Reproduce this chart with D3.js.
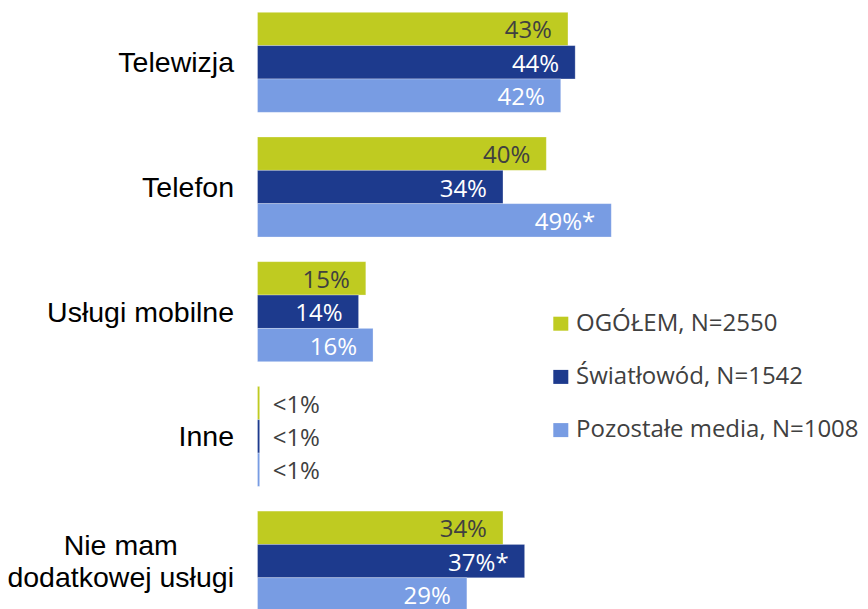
<!DOCTYPE html>
<html>
<head>
<meta charset="utf-8">
<script src="https://cdn.jsdelivr.net/npm/d3@7"></script>
<style>
  body { margin: 0; background: #fff; }
  svg { display: block; }
</style>
</head>
<body>
<div id="chart"></div>
<script>
const categories = ['Telewizja', 'Telefon', 'Usługi mobilne', 'Inne', 'Nie mam dodatkowej usługi'];
const categoryLines = [['Telewizja'], ['Telefon'], ['Usługi mobilne'], ['Inne'], ['Nie mam', 'dodatkowej usługi']];
const seriesNames = ['OGÓŁEM, N=2550', 'Światłowód, N=1542', 'Pozostałe media, N=1008'];

const ogolem = [43, 40, 15, 0.3, 34];
const swiatlowod = [44, 34, 14, 0.3, 37];
const pozostale = [42, 49, 16, 0.3, 29];

const ogolemLabels = ['43%', '40%', '15%', '<1%', '34%'];
const swiatlowodLabels = ['44%', '34%', '14%', '<1%', '37%*'];
const pozostaleLabels = ['42%', '49%*', '16%', '<1%', '29%'];

const colors = ['#BFCB21', '#1D3A8D', '#789CE3'];
const labelColors = ['#404040', '#ffffff', '#ffffff'];

const width = 868, height = 609;
const svg = d3.select('#chart').append('svg')
  .attr('width', width)
  .attr('height', height);

const values = [ogolem, swiatlowod, pozostale];
const labels = [ogolemLabels, swiatlowodLabels, pozostaleLabels];

const y = d3.scaleBand()
  .domain(categories)
  .range([12.3, 611.1])
  .paddingInner(0.198)
  .paddingOuter(0);

const ySub = d3.scaleBand()
  .domain(d3.range(seriesNames.length))
  .range([0, y.bandwidth()])
  .padding(0);

const x = d3.scaleLinear()
  .domain([0, 100])
  .range([257.5, 257.5 + 722]);

const valueFont = '"Open Sans", sans-serif';

// bars
values.forEach((vals, s) => {
  const g = svg.append('g');
  g.selectAll('rect')
    .data(vals)
    .join('rect')
    .attr('x', x(0))
    .attr('y', (d, i) => y(categories[i]) + ySub(s))
    .attr('width', d => x(d) - x(0))
    .attr('height', ySub.bandwidth())
    .attr('fill', colors[s])
    .attr('stroke', '#ffffff')
    .attr('stroke-opacity', 0.35)
    .attr('stroke-width', 0.8);

  g.selectAll('text')
    .data(vals)
    .join('text')
    .attr('x', d => d < 1 ? x(d) + 13 : x(d) - 16)
    .attr('y', (d, i) => y(categories[i]) + ySub(s) + ySub.bandwidth() / 2 + 9.5)
    .attr('text-anchor', d => d < 1 ? 'start' : 'end')
    .attr('font-family', valueFont)
    .attr('font-size', '24px')
    .attr('fill', d => d < 1 ? '#404040' : labelColors[s])
    .text((d, i) => labels[s][i]);
});

// category labels
const labelRight = 234;
categories.forEach((c, i) => {
  const lines = categoryLines[i];
  const cy = y(c) + y.bandwidth() / 2;
  const lh = 32.5;
  const t = svg.append('text')
    .attr('font-family', '"Liberation Sans", Arial, sans-serif')
    .attr('font-size', '28.5px')
    .attr('fill', '#000');
  const spans = lines.map((ln, k) => t.append('tspan')
    .attr('y', cy + 10 + (k - (lines.length - 1) / 2) * lh)
    .text(ln));
  const widths = spans.map(sp => sp.node().getComputedTextLength());
  const maxW = d3.max(widths);
  spans.forEach(sp => sp.attr('x', labelRight - maxW / 2).attr('text-anchor', 'middle'));
});

// legend
const legend = svg.append('g');
seriesNames.forEach((name, s) => {
  const ly = 330.7 + s * 53.2;
  legend.append('rect')
    .attr('x', 553.3)
    .attr('y', ly - 14)
    .attr('width', 15)
    .attr('height', 14)
    .attr('fill', colors[s]);
  legend.append('text')
    .attr('x', 576)
    .attr('y', ly)
    .attr('font-family', valueFont)
    .attr('font-size', '24px')
    .attr('fill', '#404040')
    .text(name);
});
</script>
</body>
</html>
